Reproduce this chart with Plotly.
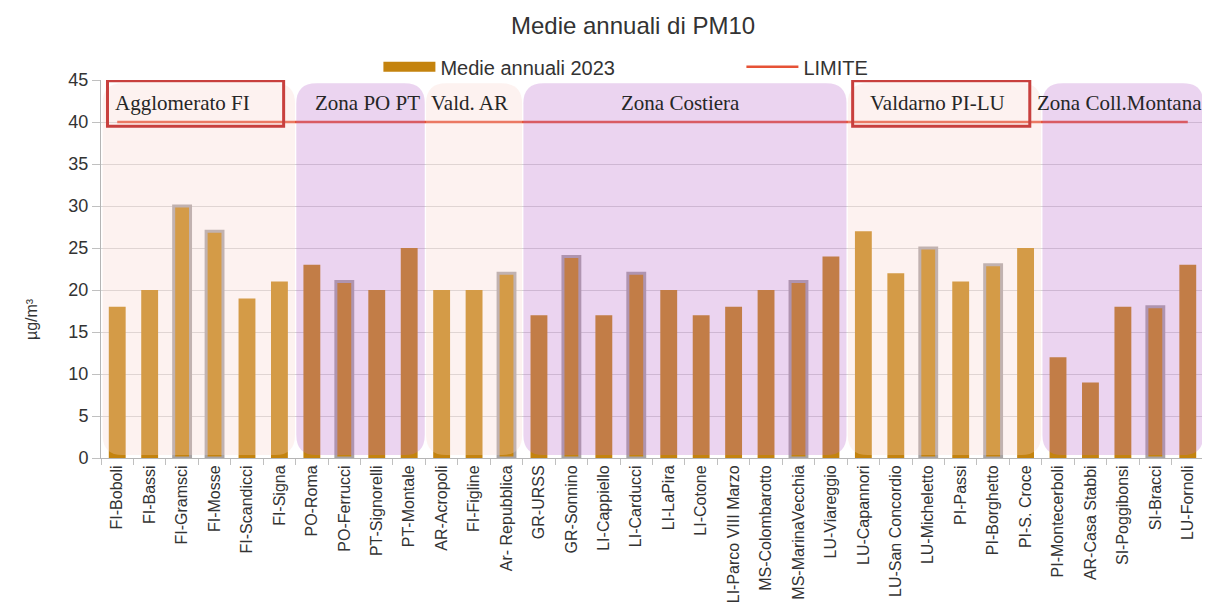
import plotly.graph_objects as go

# ---------------- data ----------------
stations = [
    "FI-Boboli", "FI-Bassi", "FI-Gramsci", "FI-Mosse", "FI-Scandicci", "FI-Signa",
    "PO-Roma", "PO-Ferrucci", "PT-Signorelli", "PT-Montale",
    "AR-Acropoli", "FI-Figline", "Ar- Repubblica",
    "GR-URSS", "GR-Sonnino", "LI-Cappiello", "LI-Carducci", "LI-LaPira", "LI-Cotone",
    "LI-Parco VIII Marzo", "MS-Colombarotto", "MS-MarinaVecchia", "LU-Viareggio",
    "LU-Capannori", "LU-San Concordio", "LU-Micheletto", "PI-Passi", "PI-Borghetto", "PI-S. Croce",
    "PI-Montecerboli", "AR-Casa Stabbi", "SI-Poggibonsi", "SI-Bracci", "LU-Fornoli",
]
medie_2023 = [
    18, 20, 30, 27, 19, 21,
    23, 21, 20, 25,
    20, 20, 22,
    17, 24, 17, 22, 20, 17, 18, 20, 21, 24,
    27, 22, 25, 21, 23, 25,
    12, 9, 18, 18, 23,
]
limite = 40
traffic_stations = [
    "FI-Gramsci", "FI-Mosse", "PO-Ferrucci", "Ar- Repubblica", "GR-Sonnino",
    "LI-Carducci", "MS-MarinaVecchia", "LU-Micheletto", "PI-Borghetto", "SI-Bracci",
]
zone_names = ["Agglomerato FI", "Zona PO PT", "Vald. AR", "Zona Costiera",
              "Valdarno PI-LU", "Zona Coll.Montana"]
zone_first = ["FI-Boboli", "PO-Roma", "AR-Acropoli", "GR-URSS", "LU-Capannori", "PI-Montecerboli"]
zone_last = ["FI-Signa", "PT-Montale", "Ar- Repubblica", "LU-Viareggio", "PI-S. Croce", "LU-Fornoli"]
zone_kind = ["pink", "purple", "pink", "purple", "pink", "purple"]
boxed_zones = ["Agglomerato FI", "Valdarno PI-LU"]
y_ticks = [0, 5, 10, 15, 20, 25, 30, 35, 40, 45]

# ---------------- styles ----------------
BAR = "#C4830E"
OUTLINE = "#A9A4A4"
LIMIT_COLOR = "#E65236"
ZONE_FILL = {"pink": "rgb(248,212,206)", "purple": "rgb(189,113,206)"}
ZONE_OPACITY = 0.30
BOX_COLOR = "#C8403E"
LABEL_Y = 42.3
# label centre offsets from the zone centre (layout only)
label_shift = [-0.49, 0.2, -0.13, -0.15, -0.2, -0.1]

xpos = list(range(len(stations)))
idx = {s: i for i, s in enumerate(stations)}

fig = go.Figure()

fig.add_trace(go.Bar(
    x=xpos, y=medie_2023, width=0.52,
    marker=dict(
        color=BAR,
        line=dict(
            color=[OUTLINE if s in traffic_stations else BAR for s in stations],
            width=[3 if s in traffic_stations else 0 for s in stations],
        ),
    ),
    name="Medie annuali 2023", showlegend=False,
    hovertext=stations,
))
# legend entry for the bars (wide swatch)
fig.add_trace(go.Scatter(
    x=[None], y=[None], mode="lines",
    line=dict(color=BAR, width=10),
    name="Medie annuali 2023",
))
fig.add_trace(go.Scatter(
    x=xpos, y=[limite] * len(stations), mode="lines",
    line=dict(color=LIMIT_COLOR, width=2.5),
    name="LIMITE",
))

# ---------------- zone overlays (rounded rectangles) ----------------
def rounded_path(x0, x1, y0, y1, rx, ry):
    return (f"M {x0+rx},{y0} L {x1-rx},{y0} Q {x1},{y0} {x1},{y0+ry} "
            f"L {x1},{y1-ry} Q {x1},{y1} {x1-rx},{y1} "
            f"L {x0+rx},{y1} Q {x0},{y1} {x0},{y1-ry} "
            f"L {x0},{y0+ry} Q {x0},{y0} {x0+rx},{y0} Z")

for name, f, l, kind, shift in zip(zone_names, zone_first, zone_last, zone_kind, label_shift):
    x0 = idx[f] - 0.5 + (0.05 if idx[f] == 0 else 0.02)
    x1 = idx[l] + 0.5 - 0.02
    fig.add_shape(
        type="path", path=rounded_path(x0, x1, 0.35, 44.6, 0.62, 2.4),
        xref="x", yref="y", fillcolor=ZONE_FILL[kind], opacity=ZONE_OPACITY,
        line=dict(width=0), layer="above",
    )
    fig.add_annotation(
        x=(x0 + x1) / 2 + shift, y=LABEL_Y, xref="x", yref="y", text=name,
        showarrow=False, font=dict(family="Liberation Serif", size=21, color="#262626"),
    )
    if name in boxed_zones:
        fig.add_shape(
            type="rect", x0=x0 + 0.15, x1=x1 - 0.35, y0=39.5, y1=44.9,
            xref="x", yref="y", line=dict(color=BOX_COLOR, width=3),
            fillcolor="rgba(0,0,0,0)", layer="above",
        )

# y-axis unit label
fig.add_annotation(
    x=-0.072, y=0.307, xref="paper", yref="paper", text="µg/m³", textangle=-90,
    showarrow=False, font=dict(family="Liberation Sans", size=16, color="#333"),
)

# the page adds an 8px body margin, so the figure is 8px smaller each way
fig.update_layout(
    width=1202, height=606,
    margin=dict(l=93, r=6, t=72, b=156, autoexpand=False),
    paper_bgcolor="white", plot_bgcolor="white",
    title=dict(text="Medie annuali di PM10", x=0.520, xref="container", xanchor="center",
               y=0.971, yanchor="middle",
               font=dict(family="Liberation Sans", size=24, color="#333")),
    legend=dict(orientation="h", x=0.2515, xanchor="left", yref="container",
                y=0.903, yanchor="middle",
                font=dict(family="Liberation Sans", size=20, color="#333"),
                itemwidth=52, entrywidth=296, bgcolor="rgba(0,0,0,0)"),
)
fig.update_xaxes(
    range=[-0.5, len(stations) - 0.5], automargin=False,
    tickmode="array", tickvals=xpos, ticktext=stations, tickangle=-90,
    ticks="", showgrid=False,
    tickfont=dict(family="Liberation Sans", size=16, color="#333"),
    showline=True, linecolor="#b5b5b5", linewidth=1,
    minor=dict(tickmode="array", tickvals=[i - 0.5 for i in range(len(stations) + 1)],
               ticks="outside", ticklen=6, tickcolor="#c0c0c0", showgrid=False),
    zeroline=False,
)
fig.update_yaxes(
    range=[0, 45], tickmode="array", tickvals=y_ticks, automargin=False,
    ticks="outside", ticklen=8, tickcolor="#c0c0c0",
    tickfont=dict(family="Liberation Sans", size=18, color="#333"),
    showgrid=True, gridcolor="#d6d6d6", gridwidth=1,
    showline=True, linecolor="#b5b5b5", linewidth=1, mirror=True,
    zeroline=False,
)

fig.write_html("out.html")
